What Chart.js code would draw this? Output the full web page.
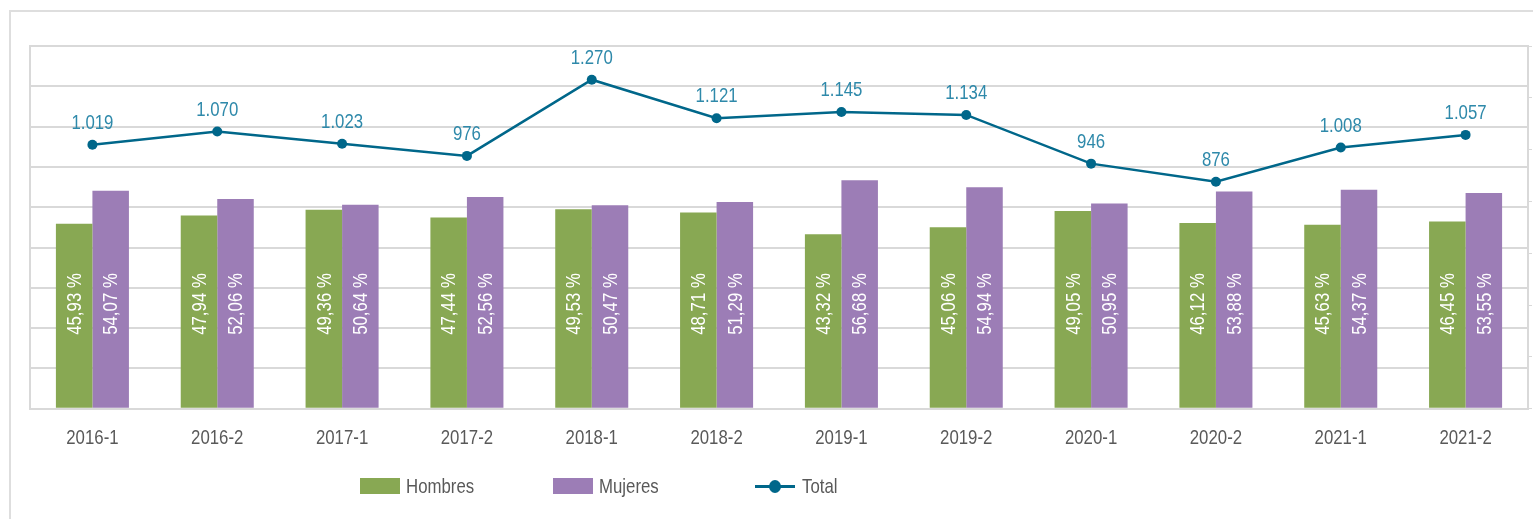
<!DOCTYPE html>
<html>
<head>
<meta charset="utf-8">
<script src="https://cdn.jsdelivr.net/npm/chart.js@4.4.1/dist/chart.umd.min.js"></script>
<style>
    html, body { margin: 0; padding: 0; background: #fff; }
    #wrap { position: relative; width: 1533px; height: 519px; overflow: hidden; }
    #frame { position: absolute; left: 9px; top: 10px; width: 1600px; height: 600px; border: 2px solid #dedede; box-sizing: border-box; }
    #chartBox { position: absolute; left: 0; top: 0; width: 1533px; height: 519px; }
    #legend { position: absolute; top: 474px; left: 0; height: 24px; font-family: "Liberation Sans", Arial, sans-serif; font-size: 21px; color: #595959; }
    .item { position: absolute; top: 0; display: flex; align-items: center; height: 24px; white-space: nowrap; }
    .item span { display: inline-block; transform: scaleX(0.8); transform-origin: left center; }
    .box { width: 40px; height: 16px; margin-right: 6px; }
    .lineKey { position: relative; width: 40px; height: 16px; margin-right: 7px; }
    .lineKey:before { content: ''; position: absolute; left: 0; right: 0; top: 7px; height: 3px; background: #00678a; }
    .lineKey:after { content: ''; position: absolute; left: 14px; top: 2px; width: 12px; height: 13px; border-radius: 50%; background: #00678a; }
</style>
</head>
<body>
<div id="wrap">
    <div id="frame"></div>
    <div id="chartBox"><canvas id="chart" width="1533" height="519"></canvas></div>
    <div id="legend">
        <div class="item" style="left:360px"><div class="box" style="background:#88a853"></div><span>Hombres</span></div>
        <div class="item" style="left:553px"><div class="box" style="background:#9c7db6"></div><span>Mujeres</span></div>
        <div class="item" style="left:755px"><div class="lineKey"></div><span>Total</span></div>
    </div>
</div>
<script>
// data
const periods = ['2016-1', '2016-2', '2017-1', '2017-2', '2018-1', '2018-2',
                 '2019-1', '2019-2', '2020-1', '2020-2', '2021-1', '2021-2'];
const hombres = [45.93, 47.94, 49.36, 47.44, 49.53, 48.71, 43.32, 45.06, 49.05, 46.12, 45.63, 46.45];
const mujeres = [54.07, 52.06, 50.64, 52.56, 50.47, 51.29, 56.68, 54.94, 50.95, 53.88, 54.37, 53.55];
const total = [1019, 1070, 1023, 976, 1270, 1121, 1145, 1134, 946, 876, 1008, 1057];

const FONT = '"Liberation Sans", Arial, sans-serif';
const NARROW = 0.8; // the original uses a condensed face, squeeze the regular one

function fmtPct(v) {
    return v.toFixed(2).replace('.', ',') + ' %';
}

function fmtThousands(v) {
    return String(v).replace(/\B(?=(\d{3})+(?!\d))/g, '.');
}

function narrowText(ctx, text, x, y, angle) {
    ctx.save();
    ctx.translate(x, y);
    if (angle) ctx.rotate(angle);
    ctx.scale(NARROW, 1);
    ctx.fillText(text, 0, 0);
    ctx.restore();
}

// draws the x labels, the rotated % labels in the bars and the totals above the line
const labelPlugin = {
    id: 'labels',
    afterDatasetsDraw(chart) {
        const ctx = chart.ctx;
        const xScale = chart.scales.x;
        const yScale = chart.scales.y;
        const labelY = yScale.getPixelForValue(26);

        ctx.save();
        ctx.font = '21px ' + FONT;
        ctx.textAlign = 'center';

        // category labels
        ctx.fillStyle = '#595959';
        ctx.textBaseline = 'middle';
        periods.forEach((p, i) => {
            narrowText(ctx, p, xScale.getPixelForValue(i), yScale.bottom + 29, 0);
        });

        // percentages inside the bars
        ctx.fillStyle = '#ffffff';
        [1, 2].forEach(di => {
            const meta = chart.getDatasetMeta(di);
            const values = chart.data.datasets[di].data;
            meta.data.forEach((bar, i) => {
                narrowText(ctx, fmtPct(values[i]), bar.x + 1, labelY, -Math.PI / 2);
            });
        });

        // totals
        const lineMeta = chart.getDatasetMeta(0);
        ctx.fillStyle = '#2e89aa';
        ctx.textBaseline = 'alphabetic';
        lineMeta.data.forEach((pt, i) => {
            narrowText(ctx, fmtThousands(total[i]), pt.x, pt.y - 16, 0);
        });
        ctx.restore();
    }
};

new Chart(document.getElementById('chart').getContext('2d'), {
    data: {
        labels: periods,
        datasets: [
            {
                type: 'line',
                label: 'Total',
                data: total,
                yAxisID: 'y1',
                borderColor: '#00678a',
                backgroundColor: '#00678a',
                borderWidth: 2.5,
                pointRadius: 5,
                pointBackgroundColor: '#00678a',
                pointBorderWidth: 0,
                tension: 0,
                order: 0
            },
            {
                type: 'bar',
                label: 'Hombres',
                data: hombres,
                yAxisID: 'y',
                backgroundColor: '#88a853',
                categoryPercentage: 0.585,
                barPercentage: 1.0,
                order: 1
            },
            {
                type: 'bar',
                label: 'Mujeres',
                data: mujeres,
                yAxisID: 'y',
                backgroundColor: '#9c7db6',
                categoryPercentage: 0.585,
                barPercentage: 1.0,
                order: 1
            }
        ]
    },
    options: {
        responsive: false,
        animation: false,
        layout: {
            padding: { left: 30, top: 46, right: 0, bottom: 53 }
        },
        plugins: {
            legend: { display: false },
            tooltip: { enabled: false }
        },
        scales: {
            x: {
                grid: { display: false, drawTicks: false },
                border: { display: true, color: '#d9d9d9', width: 2 },
                ticks: {
                    // space is kept here, the labels themselves are drawn by the plugin
                    color: 'rgba(0,0,0,0)',
                    font: { family: FONT, size: 21 },
                    padding: 16,
                    maxRotation: 0,
                    autoSkip: false
                }
            },
            y: {
                position: 'left',
                min: 0,
                max: 90,
                ticks: { display: false, stepSize: 10 },
                grid: { color: '#d9d9d9', lineWidth: 2, drawTicks: false },
                border: { display: true, color: '#d9d9d9', width: 2 }
            },
            y1: {
                position: 'right',
                min: 0,
                max: 1400,
                ticks: { display: false, stepSize: 200 },
                grid: { drawOnChartArea: false, color: '#d9d9d9', tickLength: 4 },
                border: { display: true, color: '#d9d9d9', width: 2 }
            }
        }
    },
    plugins: [labelPlugin]
});
</script>
</body>
</html>
